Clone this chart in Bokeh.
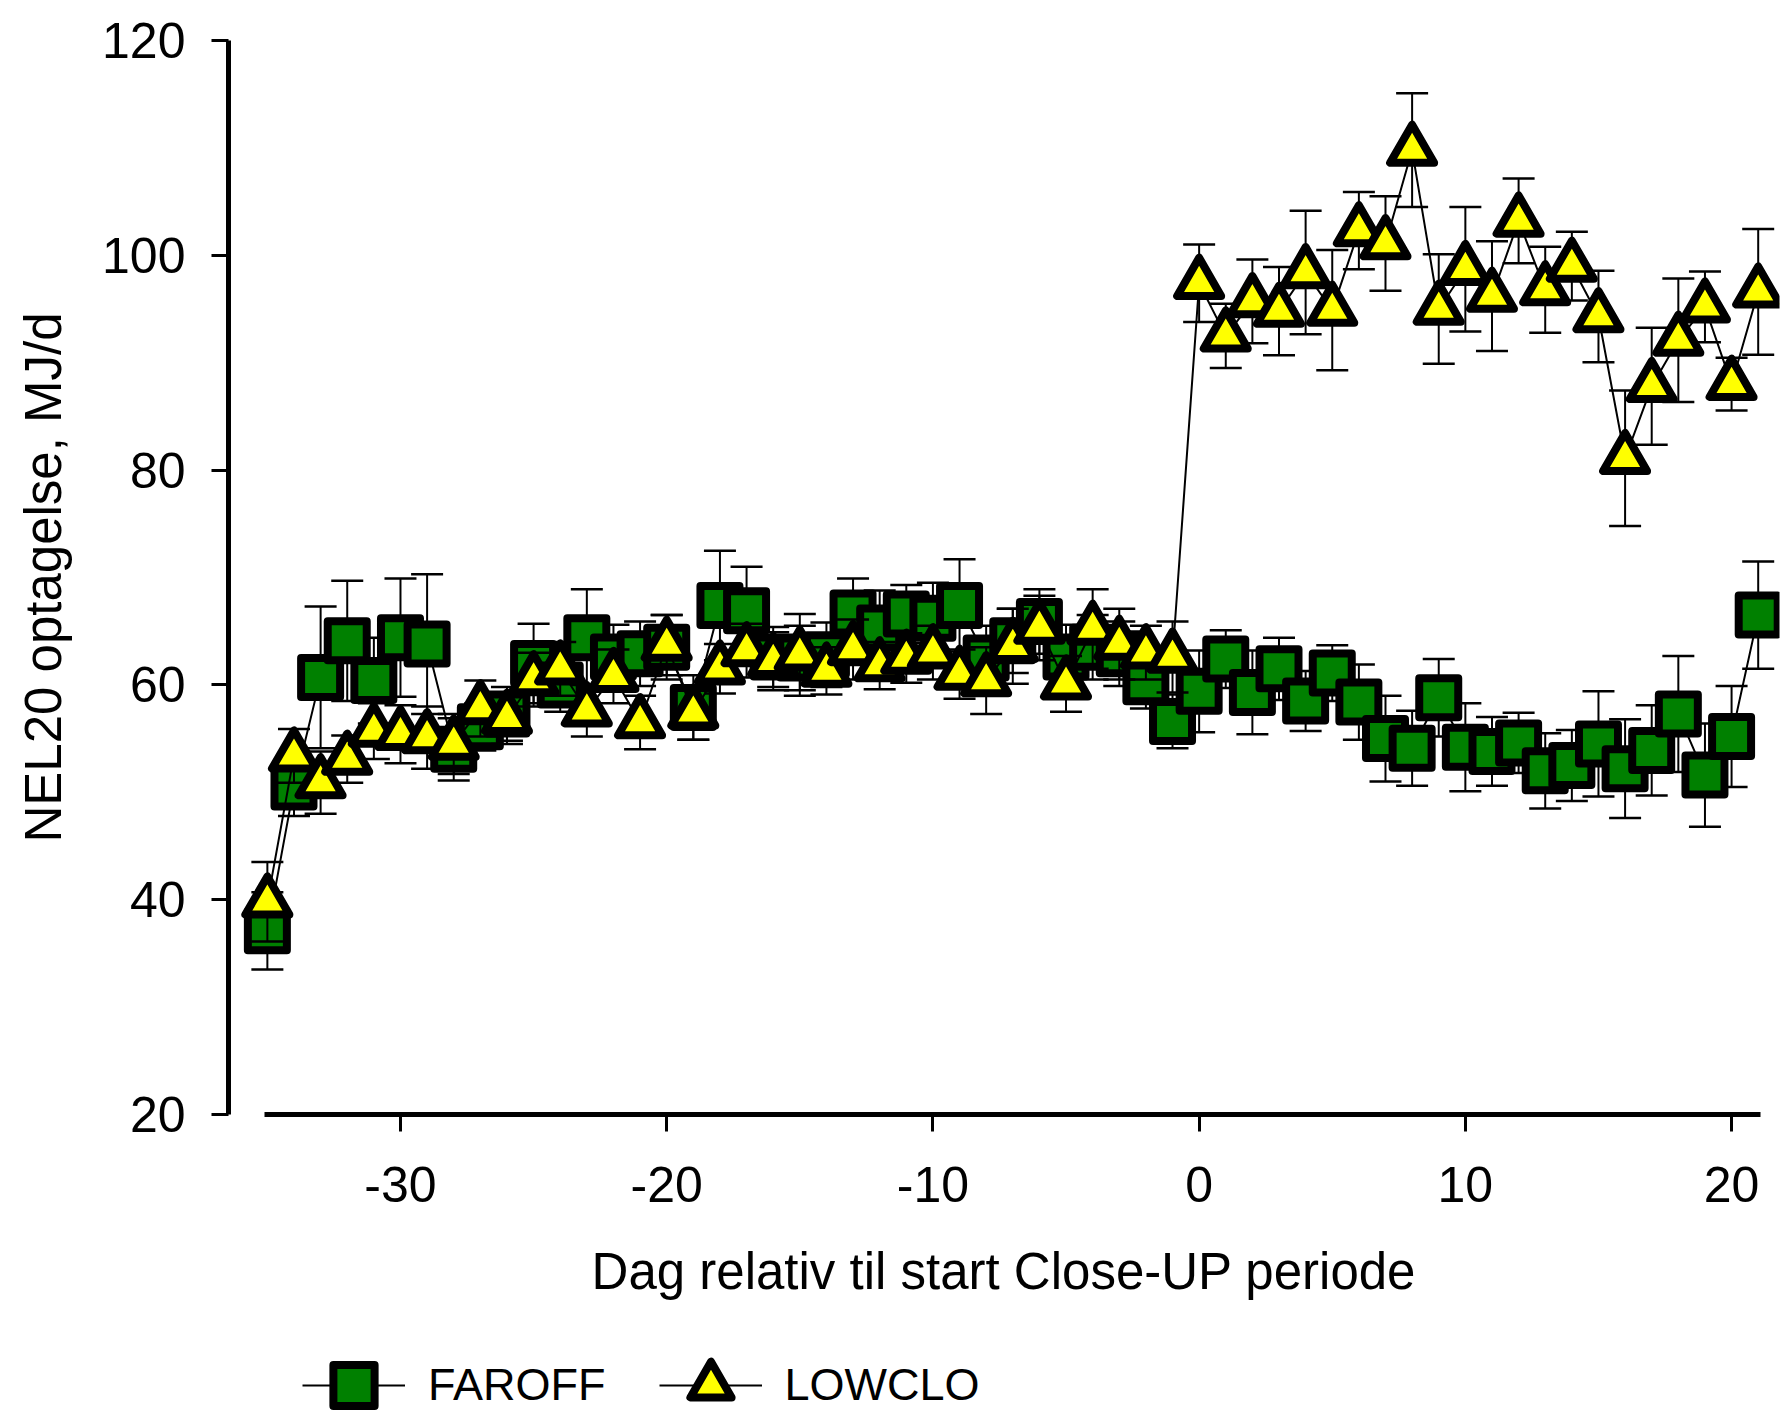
from bokeh.plotting import figure
from bokeh.layouts import column
from bokeh.models import Legend, LegendItem, FixedTicker
from bokeh.embed import file_html
from bokeh.resources import INLINE

days = list(range(-35, 22))

faroff = [37.1, 50.5, 60.7, 64.1, 60.4, 64.4, 63.8, 54.0, 56.1, 57.3,
          62.0, 60.0, 64.4, 62.6, 62.9, 63.5, 57.9, 67.4, 66.9, 62.6,
          62.5, 62.8, 66.7, 65.3, 66.6, 66.2, 67.4, 62.5, 64.1, 65.9,
          62.6, 63.5, 62.9, 60.3, 56.6, 59.4, 62.4, 59.3, 61.5, 58.5,
          61.1, 58.4, 55.0, 54.1, 58.8, 54.2, 53.8, 54.6, 52.0, 52.5,
          54.5, 52.2, 53.9, 57.3, 51.6, 55.2, 66.5]
faroff_err = [3.6, 2.7, 6.6, 5.6, 4.0, 5.5, 6.5, 2.9, 2.2, 2.5,
              3.7, 2.5, 4.5, 3.0, 3.0, 3.0, 3.0, 5.1, 4.1, 2.8,
              3.0, 3.0, 3.2, 3.5, 2.7, 3.3, 4.3, 3.0, 3.0, 3.0,
              3.0, 3.0, 3.0, 2.5, 2.5, 3.8, 2.7, 3.9, 2.9, 2.8,
              2.6, 3.5, 4.0, 3.5, 3.6, 4.1, 3.2, 2.8, 3.5, 3.3,
              4.9, 4.6, 4.2, 5.4, 4.8, 4.7, 5.0]

lowclo = [39.8, 53.4, 50.9, 53.1, 55.7, 55.4, 55.1, 54.5, 57.8, 56.9,
          60.5, 61.5, 57.6, 60.8, 56.5, 63.7, 57.4, 61.5, 63.2, 62.2,
          62.8, 61.3, 63.3, 61.8, 62.5, 63.0, 61.0, 60.4, 63.6, 65.3,
          60.1, 65.2, 63.8, 63.0, 62.6, 97.4, 92.5, 95.7, 94.8, 98.4,
          94.9, 102.3, 101.1, 109.8, 95.0, 98.7, 96.2, 103.2, 96.8, 99.0,
          94.3, 81.1, 87.8, 92.1, 95.2, 88.0, 96.6]
lowclo_err = [3.7, 2.5, 2.9, 2.2, 2.6, 2.7, 2.9, 2.8, 2.6, 2.4,
              2.5, 2.5, 2.4, 2.5, 2.5, 2.8, 2.5, 2.3, 2.5, 2.7,
              3.8, 2.2, 2.8, 2.2, 2.3, 2.5, 2.3, 3.1, 3.5, 3.0,
              2.6, 3.7, 3.3, 2.5, 3.3, 3.6, 3.0, 3.9, 4.1, 5.75,
              5.6, 3.6, 4.4, 5.3, 5.1, 5.8, 5.1, 3.95, 4.0, 3.2,
              4.25, 6.3, 5.45, 5.75, 3.3, 2.45, 5.85]

x_ticks = [-30, -20, -10, 0, 10, 20]
y_ticks = [20, 40, 60, 80, 100, 120]
series_names = ["FAROFF", "LOWCLO"]

FONT = "Liberation Sans"
GREEN = "#008000"
YELLOW = "#FFFF00"

p = figure(width=1788, height=1340, x_range=(-36.46, 21.8), y_range=(20, 120),
           output_backend="svg", toolbar_location=None,
           min_border_left=228, min_border_right=9, min_border_top=40,
           min_border_bottom=226)
p.grid.visible = False
p.outline_line_color = None

for ax in (p.xaxis[0], p.yaxis[0]):
    ax.axis_line_color = "black"
    ax.axis_line_width = 5
    ax.major_tick_line_width = 3
    ax.major_tick_line_color = "black"
    ax.major_tick_in = 0
    ax.major_tick_out = 17
    ax.minor_tick_line_color = None
    ax.major_label_text_font = FONT
    ax.major_label_text_font_size = "50px"
    ax.major_label_text_color = "black"
    ax.axis_label_text_font = FONT
    ax.axis_label_text_font_size = "51px"
    ax.axis_label_text_font_style = "normal"
    ax.axis_label_text_color = "black"

p.xaxis.ticker = FixedTicker(ticks=x_ticks)
p.yaxis.ticker = FixedTicker(ticks=y_ticks)
p.xaxis.major_label_overrides = {t: str(t) for t in x_ticks}
p.xaxis.bounds = (-35.1, 21.1)
p.yaxis.bounds = (20, 120)
p.xaxis.axis_label = "Dag relativ til start Close-UP periode"
p.yaxis.axis_label = "NEL20 optagelse, MJ/d"
p.xaxis.major_label_standoff = 35
p.yaxis.major_label_standoff = 26
p.xaxis.axis_label_standoff = 38
p.yaxis.axis_label_standoff = 27


def series(fig, vals, errs, marker, size, fill):
    lo = [v - e for v, e in zip(vals, errs)]
    hi = [v + e for v, e in zip(vals, errs)]
    fig.segment(x0=days, y0=lo, x1=days, y1=hi, line_color="black", line_width=2)
    fig.scatter(days + days, lo + hi, marker="dash", size=32, line_color="black", line_width=2.5)
    fig.line(days, vals, line_color="black", line_width=2)
    fig.scatter(days, vals, marker=marker, size=size, fill_color=fill,
                line_color="black", line_width=8, line_join="round")


series(p, faroff, faroff_err, "square", 39, GREEN)
series(p, lowclo, lowclo_err, "triangle", 44, YELLOW)

# legend strip below the chart (its proxy glyphs sit outside its visible range)
q = figure(width=1788, height=71, x_range=(0, 1), y_range=(0, 1),
           output_backend="svg", toolbar_location=None,
           min_border_left=0, min_border_right=0, min_border_top=0, min_border_bottom=0)
q.axis.visible = False
q.grid.visible = False
q.outline_line_color = None
ql1 = q.line(days[:2], faroff[:2], line_color="black", line_width=2)
qs1 = q.scatter(days[:1], faroff[:1], marker="square", fill_color=GREEN, line_color="black",
                line_width=8, line_join="round")
ql2 = q.line(days[:2], lowclo[:2], line_color="black", line_width=2)
qs2 = q.scatter(days[:1], lowclo[:1], marker="triangle", fill_color=YELLOW, line_color="black",
                line_width=8, line_join="round")

legend = Legend(items=[LegendItem(label=series_names[0], renderers=[ql1, qs1]),
                       LegendItem(label=series_names[1], renderers=[ql2, qs2])],
                orientation="horizontal", location=(74, -26),
                glyph_width=103, glyph_height=104, label_standoff=23, spacing=53,
                padding=0, margin=0, border_line_color=None,
                background_fill_alpha=0,
                label_text_font=FONT, label_text_font_size="45px",
                label_text_color="black")
q.add_layout(legend, "center")

layout = column(p, q, spacing=0)
open("out.html", "w").write(file_html(layout, INLINE))
